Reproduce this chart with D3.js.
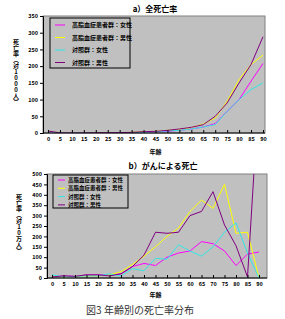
<html>
<head>
<meta charset="utf-8">
<style>
  body { margin: 0; background: #fff; }
  text { font-family: "Noto Sans CJK JP", "DejaVu Sans", sans-serif; fill: #000; }
</style>
<script src="https://cdn.jsdelivr.net/npm/d3@7"></script>
</head>
<body>
<div id="chart"></div>
<script>
// age groups
var ages = ['0','5','10','15','20','25','30','35','40','45','50','55','60','65','70','75','80','85','90'];
var seriesNames = ['高脂血症患者群：女性', '高脂血症患者群：男性', '対照群：女性', '対照群：男性'];
var colors = ['#ff00ff', '#ffff00', '#33e6e6', '#800080'];

// a) all causes, per 1000
var allF  = [5, 0.5, 0.3, 0.3, 0.4, 0.5, 0.6, 1, 2, 4, 5, 8, 12, 18, 28, 65, 100, 155, 208];
var allM  = [6, 0.5, 0.3, 0.5, 0.7, 0.8, 1, 2, 4, 5, 8, 11, 16, 27, 45, 95, 160, 205, 233];
var ctlF  = [5, 0.4, 0.2, 0.3, 0.3, 0.4, 0.5, 1, 2, 4, 6, 8, 12, 18, 25, 65, 100, 130, 150];
var ctlM  = [6, 0.5, 0.3, 0.5, 0.8, 1, 1.2, 2, 4, 5, 8, 12, 17, 25, 50, 90, 150, 205, 288];
var yTicksA = [0, 50, 100, 150, 200, 250, 300, 350];

// b) cancer, per 100,000
var canF  = [5, 10, 8, 15, 15, 15, 20, 55, 70, 60, 100, 120, 130, 175, 165, 130, 60, 115, 125];
var canM  = [10, 5, 8, 10, 10, 15, 30, 65, 105, 150, 200, 240, 320, 375, 335, 450, 215, 220, 0];
var cctF  = [15, 5, 8, 10, 10, 20, 10, 45, 35, 95, 90, 160, 130, 105, 150, 220, 265, 120, 0];
var cctM  = [5, 10, 8, 15, 15, 10, 20, 55, 110, 220, 215, 220, 300, 320, 415, 255, 155, 5, 900];
var yTicksB = [0, 50, 100, 150, 200, 250, 300, 350, 400, 450, 500];

var svg = d3.select('#chart').append('svg')
    .attr('width', 285)
    .attr('height', 319);

function drawChart(cfg) {
    var g = svg.append('g');
    var x = d3.scalePoint().domain(ages).range([cfg.x0, cfg.x1]);
    var y = d3.scaleLinear().domain([0, cfg.ymax]).range([cfg.bottom, cfg.top]);

    g.append('rect')
        .attr('x', cfg.left).attr('y', cfg.top)
        .attr('width', cfg.right - cfg.left).attr('height', cfg.bottom - cfg.top)
        .attr('fill', '#c0c0c0')
        .attr('stroke', '#808080')
        .attr('stroke-width', 1);

    var clipId = 'clip' + cfg.id;
    g.append('clipPath').attr('id', clipId)
      .append('rect')
        .attr('x', cfg.left).attr('y', cfg.top)
        .attr('width', cfg.right - cfg.left).attr('height', cfg.bottom - cfg.top);

    var line = d3.line()
        .x(function(d, i) { return x(ages[i]); })
        .y(function(d) { return y(d); });

    g.append('g').attr('clip-path', 'url(#' + clipId + ')')
      .selectAll('path')
        .data(cfg.series)
      .enter().append('path')
        .attr('d', line)
        .attr('fill', 'none')
        .attr('stroke', function(d, i) { return colors[i]; })
        .attr('stroke-width', 1);

    // y axis
    var yAxis = d3.axisLeft(y).tickValues(cfg.yTicks).tickSize(3).tickPadding(2);
    var ya = g.append('g').attr('transform', 'translate(' + cfg.left + ',0)').call(yAxis);
    ya.select('.domain').attr('stroke', '#000');
    ya.selectAll('text').style('font-size', '5.5px').style('font-weight', 'bold')
        .attr('font-family', null);

    // x axis
    var xAxis = d3.axisBottom(x).tickSize(-3).tickPadding(4);
    var xa = g.append('g').attr('transform', 'translate(0,' + cfg.bottom + ')').call(xAxis);
    xa.select('.domain').attr('d', 'M' + cfg.left + ',0H' + cfg.right).attr('stroke', '#000');
    xa.selectAll('text').style('font-size', '5.5px').style('font-weight', 'bold')
        .attr('font-family', null);

    // titles
    g.append('text')
        .attr('x', cfg.titleX).attr('y', cfg.titleY)
        .attr('text-anchor', 'middle')
        .style('font-size', '8px').style('font-weight', 'bold')
        .text(cfg.title);

    g.append('text')
        .attr('x', (cfg.x0 + cfg.x1) / 2).attr('y', cfg.bottom + cfg.xlabelDy)
        .attr('text-anchor', 'middle')
        .style('font-size', '6px').style('font-weight', 'bold')
        .text('年齢');

    g.append('text')
        .attr('transform', 'translate(' + cfg.ylabX + ',' + cfg.ylabY + ')')
        .attr('text-anchor', 'middle')
        .style('writing-mode', 'vertical-rl')
        .style('text-orientation', 'upright')
        .style('font-size', '6px').style('font-weight', 'bold')
        .text(cfg.ylabel);

    // legend
    var lg = g.append('g');
    lg.append('rect')
        .attr('x', cfg.lgX).attr('y', cfg.lgY)
        .attr('width', cfg.lgW).attr('height', cfg.lgH)
        .attr('fill', 'none').attr('stroke', '#000').attr('stroke-width', 1);
    var items = lg.selectAll('g.item').data(seriesNames).enter().append('g')
        .attr('transform', function(d, i) {
            return 'translate(' + (cfg.lgX + 5) + ',' + (cfg.lgY + cfg.lgFirst + i * cfg.lgStep) + ')';
        });
    items.append('line')
        .attr('x1', 0).attr('x2', cfg.lgLine).attr('y1', 0).attr('y2', 0)
        .attr('stroke', function(d, i) { return colors[i]; })
        .attr('stroke-width', 1);
    items.append('text')
        .attr('x', cfg.lgLine + cfg.lgGap).attr('y', 2)
        .style('font-size', cfg.lgFont).style('font-weight', 'bold')
        .text(function(d) { return d; });
}

drawChart({
    id: 'a', title: 'a）全死亡率', titleX: 155, titleY: 12,
    left: 43, right: 265, top: 16, bottom: 133, x0: 48, x1: 263,
    ymax: 350, yTicks: yTicksA, series: [allF, allM, ctlF, ctlM],
    xlabelDy: 21, ylabX: 16, ylabY: 72, ylabel: '死亡率（対1000人）',
    lgX: 50, lgY: 18, lgW: 80, lgH: 50, lgFirst: 7, lgStep: 12.5, lgLine: 10, lgGap: 7, lgFont: '6px'
});

drawChart({
    id: 'b', title: 'b）がんによる死亡', titleX: 163, titleY: 169,
    left: 47, right: 267, top: 174, bottom: 278, x0: 52, x1: 259,
    ymax: 500, yTicks: yTicksB, series: [canF, canM, cctF, cctM],
    xlabelDy: 19, ylabX: 19, ylabY: 224, ylabel: '死亡率（対10万人）',
    lgX: 53, lgY: 175, lgW: 75, lgH: 33, lgFirst: 5, lgStep: 8.3, lgLine: 7, lgGap: 3, lgFont: '5.5px'
});

svg.append('text')
    .attr('x', 140).attr('y', 314)
    .attr('text-anchor', 'middle')
    .style('font-size', '10px')
    .style('fill', '#333')
    .text('図3  年齢別の死亡率分布');
</script>
</body>
</html>
